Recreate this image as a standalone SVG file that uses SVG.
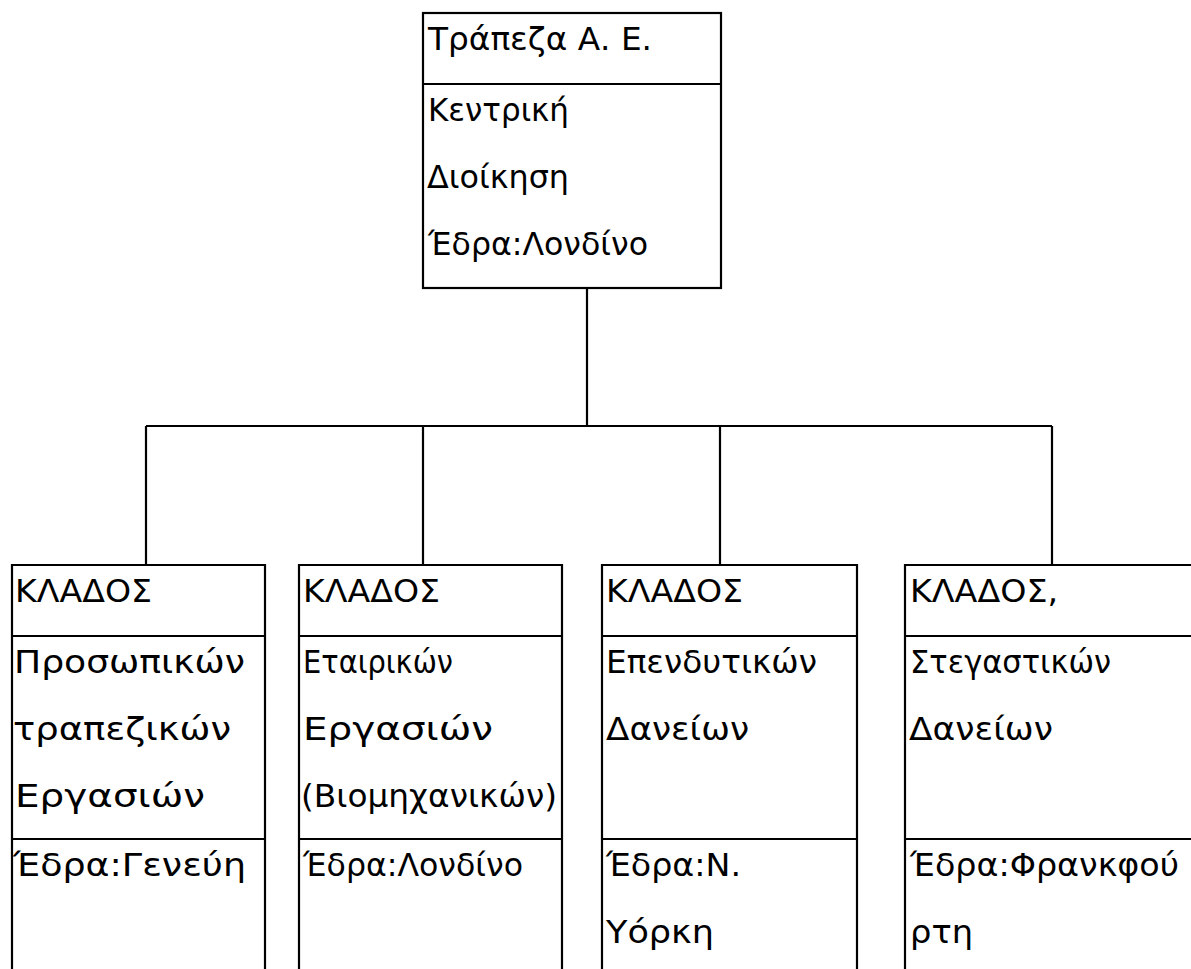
<svg xmlns="http://www.w3.org/2000/svg" width="1191" height="969" viewBox="0 0 1191 969">
<style>
.ln{fill:none;stroke:#000;stroke-width:2.2}
text{font-family:"DejaVu Sans","Noto Sans",sans-serif;font-size:32px;fill:#000}
</style>
<rect width="1191" height="969" fill="#fff"/>
<g id="connectors">
<path class="ln" d="M587 288V426M146 426H1052M146 426V565M423 426V565M720 426V565M1052 426V565"/>
</g>
<g id="node-top">
<rect class="ln" x="423" y="13" width="298" height="275"/>
<line class="ln" x1="423" y1="84" x2="721" y2="84"/>
<text x="428" y="50" textLength="224" lengthAdjust="spacingAndGlyphs">Τράπεζα Α. Ε.</text>
<text x="428" y="121" textLength="141" lengthAdjust="spacingAndGlyphs">Κεντρική</text>
<text x="427" y="188" textLength="142" lengthAdjust="spacingAndGlyphs">Διοίκηση</text>
<text x="428" y="255" textLength="220" lengthAdjust="spacingAndGlyphs">Έδρα:Λονδίνο</text>
</g>
<g id="node-1">
<path class="ln" d="M12 975V565H265V975M12 636H265M12 839H265"/>
<text x="15" y="602" textLength="137" lengthAdjust="spacingAndGlyphs">ΚΛΑΔΟΣ</text>
<text x="14" y="673" textLength="231" lengthAdjust="spacingAndGlyphs">Προσωπικών</text>
<text x="13" y="740" textLength="218" lengthAdjust="spacingAndGlyphs">τραπεζικών</text>
<text x="15" y="807" textLength="190" lengthAdjust="spacingAndGlyphs">Εργασιών</text>
<text x="13" y="876" textLength="233" lengthAdjust="spacingAndGlyphs">Έδρα:Γενεύη</text>
</g>
<g id="node-2">
<path class="ln" d="M299 975V565H562V975M299 636H562M299 839H562"/>
<text x="303" y="602" textLength="137" lengthAdjust="spacingAndGlyphs">ΚΛΑΔΟΣ</text>
<text x="303" y="673" textLength="150" lengthAdjust="spacingAndGlyphs">Εταιρικών</text>
<text x="303" y="740" textLength="190" lengthAdjust="spacingAndGlyphs">Εργασιών</text>
<text x="301" y="807" textLength="256" lengthAdjust="spacingAndGlyphs">(Βιομηχανικών)</text>
<text x="303" y="876" textLength="220" lengthAdjust="spacingAndGlyphs">Έδρα:Λονδίνο</text>
</g>
<g id="node-3">
<path class="ln" d="M602 975V565H857V975M602 636H857M602 839H857"/>
<text x="606" y="602" textLength="137" lengthAdjust="spacingAndGlyphs">ΚΛΑΔΟΣ</text>
<text x="606" y="673" textLength="211" lengthAdjust="spacingAndGlyphs">Επενδυτικών</text>
<text x="606" y="740" textLength="143" lengthAdjust="spacingAndGlyphs">Δανείων</text>
<text x="606" y="876" textLength="135" lengthAdjust="spacingAndGlyphs">Έδρα:Ν.</text>
<text x="606" y="943" textLength="108" lengthAdjust="spacingAndGlyphs">Υόρκη</text>
</g>
<g id="node-4">
<path class="ln" d="M905 975V565H1200M905 636H1200M905 839H1200"/>
<text x="910" y="602" textLength="148" lengthAdjust="spacingAndGlyphs">ΚΛΑΔΟΣ,</text>
<text x="910" y="673" textLength="201" lengthAdjust="spacingAndGlyphs">Στεγαστικών</text>
<text x="909" y="740" textLength="144" lengthAdjust="spacingAndGlyphs">Δανείων</text>
<text x="910" y="876" textLength="269" lengthAdjust="spacingAndGlyphs">Έδρα:Φρανκφού</text>
<text x="910" y="943" textLength="63" lengthAdjust="spacingAndGlyphs">ρτη</text>
</g>
</svg>
